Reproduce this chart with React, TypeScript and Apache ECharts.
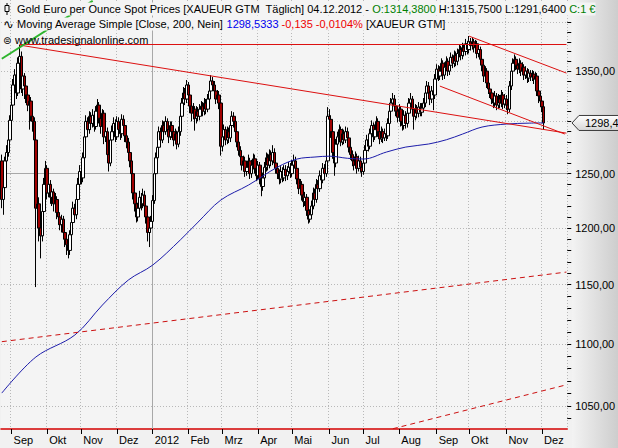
import React, { useEffect, useRef } from 'react';
import * as echarts from 'echarts';

const FONT = 'Liberation Sans, Arial, sans-serif';
const START = [2011, 7, 24]; // first trading day (UTC y, m0, d)
const FUTURE_SLOTS = 14;
const MONTH_LABELS = ['2012', 'Feb', 'Mrz', 'Apr', 'Mai', 'Jun', 'Jul', 'Aug', 'Sep', 'Okt', 'Nov', 'Dez'];

const FIRST_OPEN = 1262;
const CLOSES = [
  1226, 1237, 1262, 1270, 1282, 1301, 1316, 1336, 1346, 1328,
  1358, 1365, 1332, 1345, 1335, 1326, 1316, 1320, 1305, 1300,
  1282, 1218, 1222, 1200, 1193, 1215, 1240, 1255, 1232, 1240,
  1228, 1233, 1222, 1226, 1214, 1210, 1203, 1208, 1196, 1190,
  1185, 1180, 1194, 1205, 1218, 1212, 1226, 1240, 1252, 1246,
  1265, 1285, 1300, 1292, 1305, 1298, 1306, 1295, 1310, 1316,
  1303, 1295, 1308, 1285, 1290, 1268, 1260, 1282, 1290, 1298,
  1285, 1300, 1292, 1288, 1302, 1296, 1286, 1280, 1270, 1262,
  1250, 1232, 1222, 1210, 1218, 1228, 1222, 1230, 1220, 1210,
  1196, 1200, 1206, 1225, 1250, 1265, 1275, 1290, 1282, 1296,
  1290, 1300, 1292, 1285, 1296, 1290, 1282, 1288, 1278, 1290,
  1305, 1318, 1328, 1322, 1336, 1326, 1315, 1308, 1312, 1303,
  1310, 1305, 1312, 1315, 1310, 1318, 1312, 1322, 1330, 1340,
  1336, 1330, 1322, 1326, 1318, 1276, 1285, 1292, 1282, 1290,
  1284, 1296, 1305, 1300, 1290, 1280, 1272, 1266, 1258, 1262,
  1252, 1256, 1262, 1250, 1258, 1264, 1255, 1248, 1258, 1245,
  1238, 1246, 1256, 1265, 1258, 1268, 1262, 1270, 1260, 1255,
  1250, 1245, 1252, 1246, 1254, 1248, 1252, 1256, 1250, 1258,
  1262, 1255, 1245, 1236, 1240, 1230, 1224, 1228, 1216, 1208,
  1212, 1220, 1232, 1226, 1240, 1236, 1248, 1244, 1255, 1250,
  1262, 1305, 1302, 1290, 1270, 1260, 1278, 1285, 1292, 1280,
  1288, 1282, 1290, 1284, 1275, 1268, 1262, 1258, 1266, 1255,
  1262, 1256, 1252, 1260, 1272, 1282, 1276, 1288, 1296, 1285,
  1292, 1300, 1290, 1283, 1290, 1284, 1288, 1286, 1298, 1310,
  1318, 1322, 1315, 1310, 1304, 1312, 1300, 1296, 1306, 1298,
  1308, 1318, 1322, 1312, 1305, 1312, 1308, 1314, 1309, 1313,
  1318, 1328, 1335, 1328, 1322, 1330, 1326, 1342, 1352, 1345,
  1350, 1358, 1346, 1354, 1360, 1350, 1356, 1364, 1358, 1366,
  1360, 1368, 1372, 1366, 1374, 1370, 1378, 1372, 1380, 1376,
  1380, 1374, 1378, 1368, 1372, 1362, 1356, 1345, 1350, 1338,
  1332, 1328, 1322, 1318, 1325, 1316, 1322, 1318, 1326, 1317,
  1322, 1316, 1312, 1335, 1350, 1358, 1362, 1356, 1352, 1358,
  1350, 1354, 1346, 1350, 1343, 1348, 1344, 1347, 1342, 1345,
  1330, 1325, 1320, 1314.38, 1298.45,
];
const HIGHS = [
  1268, 1245, 1266, 1277, 1290, 1306, 1322, 1342, 1352, 1350,
  1364, 1377, 1370, 1352, 1348, 1340, 1330, 1326, 1324, 1310,
  1304, 1290, 1245, 1228, 1210, 1220, 1246, 1262, 1258, 1246,
  1244, 1238, 1236, 1232, 1229, 1218, 1214, 1212, 1211, 1200,
  1194, 1190, 1198, 1210, 1224, 1222, 1230, 1246, 1258, 1256,
  1270, 1290, 1306, 1304, 1310, 1309, 1312, 1310, 1315, 1322,
  1319, 1306, 1312, 1311, 1296, 1294, 1272, 1286, 1296, 1304,
  1302, 1305, 1304, 1297, 1307, 1306, 1300, 1291, 1284, 1274,
  1266, 1254, 1236, 1226, 1223, 1234, 1232, 1236, 1234, 1224,
  1213, 1206, 1211, 1230, 1255, 1270, 1280, 1295, 1294, 1301,
  1300, 1305, 1303, 1296, 1300, 1300, 1293, 1293, 1291, 1295,
  1310, 1323, 1334, 1333, 1341, 1339, 1329, 1318, 1318, 1315,
  1315, 1314, 1317, 1320, 1319, 1323, 1322, 1327, 1336, 1346,
  1344, 1340, 1333, 1331, 1330, 1322, 1290, 1297, 1295, 1295,
  1294, 1300, 1310, 1309, 1304, 1293, 1284, 1276, 1270, 1267,
  1266, 1261, 1268, 1265, 1263, 1269, 1268, 1259, 1262, 1261,
  1249, 1251, 1261, 1270, 1269, 1273, 1272, 1277, 1274, 1264,
  1259, 1254, 1257, 1256, 1258, 1258, 1257, 1261, 1260, 1263,
  1268, 1266, 1259, 1249, 1245, 1243, 1234, 1233, 1231, 1220,
  1217, 1225, 1237, 1236, 1245, 1244, 1253, 1252, 1260, 1259,
  1267, 1314, 1312, 1306, 1294, 1275, 1283, 1290, 1297, 1295,
  1293, 1292, 1295, 1294, 1288, 1279, 1272, 1266, 1271, 1269,
  1267, 1266, 1260, 1265, 1277, 1287, 1286, 1293, 1301, 1299,
  1297, 1305, 1303, 1294, 1295, 1293, 1293, 1292, 1303, 1315,
  1323, 1328, 1326, 1319, 1314, 1317, 1315, 1304, 1311, 1310,
  1313, 1323, 1328, 1325, 1316, 1317, 1316, 1319, 1318, 1318,
  1323, 1333, 1340, 1339, 1332, 1335, 1334, 1347, 1357, 1356,
  1355, 1363, 1361, 1359, 1365, 1363, 1361, 1369, 1367, 1371,
  1370, 1373, 1377, 1376, 1379, 1378, 1383, 1381, 1386, 1384,
  1385, 1383, 1382, 1381, 1377, 1375, 1366, 1359, 1355, 1353,
  1342, 1336, 1332, 1326, 1330, 1328, 1327, 1326, 1331, 1329,
  1327, 1326, 1320, 1340, 1355, 1363, 1367, 1365, 1360, 1363,
  1361, 1359, 1357, 1355, 1353, 1352, 1351, 1351, 1350, 1349,
  1348, 1334, 1329, 1324, 1315.75,
];
const LOWS = [
  1218, 1212, 1230, 1255, 1266, 1278, 1296, 1312, 1330, 1322,
  1325, 1352, 1328, 1325, 1322, 1318, 1310, 1292, 1300, 1290,
  1276, 1148, 1200, 1188, 1173, 1188, 1210, 1236, 1226, 1228,
  1222, 1220, 1215, 1218, 1208, 1203, 1198, 1196, 1190, 1183,
  1176, 1173, 1176, 1190, 1200, 1206, 1208, 1222, 1236, 1240,
  1242, 1262, 1280, 1285, 1288, 1292, 1294, 1290, 1292, 1305,
  1298, 1288, 1290, 1278, 1280, 1262, 1252, 1257, 1278, 1286,
  1280, 1282, 1287, 1282, 1284, 1290, 1280, 1274, 1264, 1256,
  1244, 1226, 1215, 1205, 1206, 1214, 1216, 1218, 1214, 1204,
  1188, 1183, 1196, 1202, 1222, 1246, 1260, 1272, 1276, 1279,
  1284, 1287, 1286, 1279, 1282, 1284, 1276, 1278, 1273, 1275,
  1286, 1300, 1314, 1316, 1318, 1320, 1308, 1300, 1302, 1291,
  1298, 1300, 1301, 1307, 1305, 1306, 1307, 1309, 1318, 1326,
  1330, 1325, 1317, 1318, 1312, 1267, 1271, 1280, 1277, 1278,
  1279, 1280, 1292, 1294, 1285, 1275, 1267, 1260, 1253, 1254,
  1247, 1248, 1252, 1245, 1246, 1254, 1250, 1243, 1244, 1240,
  1229, 1234, 1242, 1252, 1253, 1255, 1257, 1258, 1255, 1250,
  1245, 1240, 1241, 1242, 1243, 1243, 1244, 1248, 1246, 1247,
  1254, 1250, 1240, 1231, 1232, 1225, 1219, 1220, 1211, 1204,
  1205, 1209, 1217, 1221, 1223, 1230, 1233, 1239, 1241, 1245,
  1247, 1258, 1296, 1284, 1264, 1248, 1256, 1274, 1281, 1276,
  1277, 1278, 1279, 1279, 1270, 1263, 1257, 1253, 1255, 1250,
  1252, 1251, 1247, 1249, 1257, 1268, 1271, 1273, 1284, 1280,
  1282, 1288, 1285, 1278, 1280, 1279, 1281, 1281, 1283, 1294,
  1306, 1313, 1310, 1305, 1299, 1300, 1295, 1291, 1292, 1293,
  1294, 1304, 1314, 1307, 1292, 1301, 1303, 1304, 1305, 1305,
  1309, 1314, 1324, 1323, 1316, 1318, 1311, 1322, 1338, 1340,
  1341, 1346, 1341, 1342, 1350, 1345, 1346, 1352, 1353, 1354,
  1355, 1356, 1364, 1361, 1362, 1365, 1366, 1367, 1368, 1371,
  1372, 1369, 1370, 1363, 1364, 1357, 1350, 1339, 1340, 1333,
  1327, 1323, 1317, 1313, 1314, 1311, 1312, 1313, 1314, 1312,
  1313, 1311, 1307, 1309, 1331, 1346, 1353, 1351, 1347, 1348,
  1345, 1346, 1341, 1342, 1338, 1339, 1340, 1340, 1337, 1337,
  1325, 1318, 1314, 1309, 1291.64,
];

// 200-day simple moving average, read at selected trading-day indices
const SMA_INDEX = [0, 21, 45, 62, 78, 93, 110, 121, 135, 152, 170, 182, 193, 202, 213, 223, 237, 249, 263, 274, 284, 296, 311, 325, 334];
const SMA_VALUES = [1060.2, 1089.3, 1107.4, 1132.6, 1154.1, 1167.1, 1189.3, 1205.4, 1225.5, 1239.3, 1256.2, 1263.8, 1265.7, 1266.5, 1264.5, 1263.8, 1270.4, 1275.2, 1278.1, 1282.2, 1287.7, 1294.5, 1297.4, 1298.3, 1298.53];

// Drawn trend lines: [startIndex, startPrice, endIndex, endPrice]
const RED_LINES = [
  [11, 1377.1, 348, 1377.1],
  [11, 1376.6, 348, 1288.6],
  [270, 1334.9, 347, 1287.7],
  [288, 1385.9, 348, 1348.0],
];
const GREEN_LINES = [[0, 1362.6, 56, 1423]];
const DASHED_LINES = [
  [0, 1101.9, 348, 1161.0],
  [241, 1032.2, 348, 1066.8],
];

const Y_LABELS = [1050, 1100, 1150, 1200, 1250, 1350];
const Y_GRID = [1050, 1100, 1150, 1200, 1300, 1350, 1400];
const Y_SOLID = 1250;
const Y_MIN = 1032;
const Y_MAX = 1424;

function buildDates(n: number): string[] {
  const out: string[] = [];
  let t = Date.UTC(START[0], START[1], START[2]);
  while (out.length < n) {
    const d = new Date(t);
    const wd = d.getUTCDay();
    if (wd !== 0 && wd !== 6) out.push(d.toISOString().slice(0, 10));
    t += 86400000;
  }
  return out;
}

const fmtNum = (v: number, digits: number) => Number(v).toFixed(digits).replace('.', ',');

export default function App() {
  const ref = useRef<HTMLDivElement>(null);
  useEffect(() => {
    if (!ref.current) return;
    const chart = echarts.init(ref.current, undefined, { renderer: 'svg' });
    const n = CLOSES.length;
    const DATES = buildDates(n + FUTURE_SLOTS);
    const isMonthStart = (i: number) => i > 0 && DATES[i].slice(5, 7) !== DATES[i - 1].slice(5, 7);
    const monthLabel = (v: string) => MONTH_LABELS[parseInt(v.slice(5, 7), 10) - 1];
    const candles = CLOSES.map((c, i) => [i === 0 ? FIRST_OPEN : CLOSES[i - 1], c, LOWS[i], HIGHS[i]]);
    const sma: (number | null)[] = DATES.map(() => null);
    SMA_INDEX.forEach((k, j) => { sma[k] = SMA_VALUES[j]; });
    const minorTicks: number[] = [];
    for (let v = 1040; v <= 1420; v += 10) minorTicks.push(v);
    const yearStart = DATES.findIndex((d, i) => isMonthStart(i) && d.slice(5, 7) === '01');

    const seg = (l: number[], style: any) => [
      { coord: [DATES[l[0]], l[1]], lineStyle: style },
      { coord: [DATES[l[2]], l[3]] },
    ];
    const trend = [
      ...RED_LINES.map((l) => seg(l, { color: '#dc1010', width: 1, type: 'solid' })),
      ...GREEN_LINES.map((l) => seg(l, { color: '#2db52d', width: 2, type: 'solid' })),
      ...DASHED_LINES.map((l) => seg(l, { color: '#cc1010', width: 1, type: [5, 4] })),
    ];
    const gridLines = [
      ...Y_GRID.map((v) => ({ yAxis: v, lineStyle: { color: '#b8b8b8', width: 1, type: [1, 2] } })),
      { yAxis: Y_SOLID, lineStyle: { color: '#a8a8a8', width: 1, type: 'solid' } },
      { xAxis: DATES[yearStart], lineStyle: { color: '#a8a8a8', width: 1, type: 'solid' } },
    ];
    const HF = 11;

    const makeGraphics = (cy: number | null) => {
      const g: any[] = [
        {
          type: 'rect', z: -10, shape: { x: 572, y: 0, width: 46, height: 448 },
          style: { fill: new echarts.graphic.LinearGradient(0, 0, 1, 0, [
            { offset: 0, color: '#f3f3f3' }, { offset: 1, color: '#cdcdcd' }]) },
        },
        // header icons
        { type: 'line', shape: { x1: 7, y1: 3, x2: 7, y2: 15 }, style: { stroke: '#000', lineWidth: 1 }, z: 20 },
        { type: 'rect', shape: { x: 5, y: 5.5, width: 4, height: 6 }, style: { fill: '#f4f4f4', stroke: '#000', lineWidth: 1 }, z: 21 },
        {
          type: 'text', x: 3, y: 24, z: 20,
          style: { text: '∿', font: '13px DejaVu Sans', fill: '#000', verticalAlign: 'middle' },
        },
        {
          type: 'text', x: 3, y: 40, z: 20,
          style: { text: '⊜', font: '10px DejaVu Sans', fill: '#000', verticalAlign: 'middle' },
        },
        {
          type: 'text', x: 17, y: 9, z: 20,
          style: {
            text: '{k|Gold Euro per Ounce Spot Prices [XAUEUR GTM  Täglich] 04.12.2012 - }{g|O:1314,3800}{k| H:1315,7500 L:1291,6400 }{g|C:1 €}',
            rich: { k: { fill: '#000', fontSize: HF, fontFamily: FONT }, g: { fill: '#008000', fontSize: HF, fontFamily: FONT } },
            font: `${HF}px ${FONT}`, verticalAlign: 'middle', backgroundColor: '#f4f4f4', padding: [1, 0, 1, 0],
          },
        },
        {
          type: 'text', x: 17, y: 24, z: 20,
          style: {
            text: '{k|Moving Average Simple [Close, 200, Nein] }{b|1298,5333}{r| -0,135 -0,0104%}{k| [XAUEUR GTM]}',
            rich: {
              k: { fill: '#000', fontSize: HF, fontFamily: FONT },
              b: { fill: '#0000ee', fontSize: HF, fontFamily: FONT },
              r: { fill: '#ee0000', fontSize: HF, fontFamily: FONT },
            },
            font: `${HF}px ${FONT}`, verticalAlign: 'middle', backgroundColor: '#f4f4f4', padding: [1, 0, 1, 0],
          },
        },
        {
          type: 'text', x: 15, y: 40, z: 20,
          style: { text: 'www.tradesignalonline.com', font: `${HF}px ${FONT}`, fill: '#000', verticalAlign: 'middle' },
        },
      ];
      if (cy !== null) {
        g.push({
          type: 'polygon', z: 30,
          shape: { points: [[572, cy], [579, cy - 7.5], [620, cy - 7.5], [620, cy + 7.5], [579, cy + 7.5]] },
          style: {
            fill: new echarts.graphic.LinearGradient(0, 0, 0, 1, [
              { offset: 0, color: '#ffffff' }, { offset: 1, color: '#d6d6d6' }]),
            stroke: '#3c3c3c', lineWidth: 1,
          },
        });
        g.push({
          type: 'text', x: 585, y: cy, z: 31,
          style: { text: fmtNum(CLOSES[n - 1], 2), font: `11px ${FONT}`, fill: '#000', verticalAlign: 'middle' },
        });
      }
      return g;
    };

    const buildOption = (cy: number | null) => ({
      animation: false,
      backgroundColor: '#f1f1f1',
      textStyle: { fontFamily: FONT },
      grid: { left: 1, right: 46, top: 0, bottom: 19, show: true, backgroundColor: '#f4f4f4', borderWidth: 0 },
      xAxis: {
        type: 'category', data: DATES, boundaryGap: true,
        axisLine: { show: true, onZero: false, lineStyle: { color: '#d40000', width: 1.5 } },
        axisTick: { show: true, interval: (i: number) => isMonthStart(i), alignWithLabel: true, length: 5, lineStyle: { color: '#000' } },
        axisLabel: {
          interval: (i: number) => isMonthStart(i), formatter: (v: string) => monthLabel(v),
          align: 'left', margin: 5, padding: [0, 0, 0, 2], color: '#000', fontSize: 11, fontFamily: FONT,
        },
        splitLine: { show: true, interval: (i: number) => isMonthStart(i), lineStyle: { color: '#b8b8b8', width: 1, type: [1, 2] } },
      },
      yAxis: {
        type: 'log', logBase: 10, position: 'right', min: Y_MIN, max: Y_MAX,
        axisLine: { show: false },
        axisTick: { show: true, customValues: minorTicks, length: 4, inside: false, lineStyle: { color: '#000' } },
        axisLabel: { customValues: Y_LABELS, formatter: (v: number) => fmtNum(v, 2), margin: 8, color: '#000', fontSize: 11, fontFamily: FONT },
        splitLine: { show: false },
      },
      series: [
        {
          type: 'candlestick', data: candles, barWidth: 3, z: 2,
          itemStyle: { color: '#ffffff', color0: '#a00000', borderColor: '#000000', borderColor0: '#000000', borderWidth: 1 },
          markLine: { symbol: ['none', 'none'], silent: true, label: { show: false }, data: trend },
        },
        {
          type: 'line', data: sma, connectNulls: true, showSymbol: false, symbol: 'none', z: 3, smooth: 0.35,
          lineStyle: { color: '#1c1caa', width: 1 },
          markLine: { z: 1, symbol: ['none', 'none'], silent: true, label: { show: false }, data: gridLines },
        },
      ],
      graphic: makeGraphics(cy),
    });

    chart.setOption(buildOption(null));
    const cy = chart.convertToPixel({ yAxisIndex: 0 }, CLOSES[n - 1]) as number;
    chart.setOption(buildOption(typeof cy === 'number' && isFinite(cy) ? cy : null), true);
    return () => chart.dispose();
  }, []);
  return <div ref={ref} style={{ position: 'fixed', left: 0, top: 0, width: 618, height: 448 }} />;
}
